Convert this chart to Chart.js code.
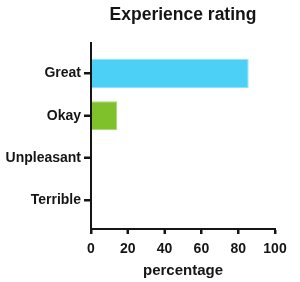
<!DOCTYPE html>
<html>
<head>
<meta charset="utf-8">
<script src="https://cdn.jsdelivr.net/npm/chart.js@4"></script>
<style>
  html, body { margin: 0; padding: 0; background: #ffffff; }
  #c { display: block; }
</style>
</head>
<body>
<canvas id="c" width="300" height="282"></canvas>
<script>
const chartTitle = 'Experience rating';
const xAxisTitle = 'percentage';
const categories = ['Great', 'Okay', 'Unpleasant', 'Terrible'];
const percentages = [85.7, 14.3, 0, 0];
const barColors = ['#4DD0F5', '#7EC12A', '#4DD0F5', '#4DD0F5'];
const barEdgeColors = ['#8EE2FA', '#A9D672', '#8EE2FA', '#8EE2FA'];
const xTickMin = 0;
const xTickMax = 100;
const xTickStep = 20;

const FONT = "'Liberation Sans', Arial, Helvetica, sans-serif";
const INK = '#151515';

// Draws the small tick marks of both axes at the scales' own tick positions.
const axisTickMarks = {
  id: 'axisTickMarks',
  afterDraw(chart) {
    const ctx = chart.ctx;
    const xs = chart.scales.x;
    const ys = chart.scales.y;
    ctx.save();
    ctx.strokeStyle = INK;
    ctx.lineWidth = 2;
    ctx.beginPath();
    ys.ticks.forEach(t => {
      const p = Math.round(ys.getPixelForValue(t.value));
      ctx.moveTo(ys.right - 7, p);
      ctx.lineTo(ys.right, p);
    });
    xs.ticks.forEach(t => {
      const p = Math.round(xs.getPixelForValue(t.value));
      ctx.moveTo(p, xs.top);
      ctx.lineTo(p, xs.top + 5);
    });
    ctx.stroke();
    ctx.restore();
  }
};

new Chart(document.getElementById('c'), {
  type: 'bar',
  data: {
    datasets: [{
      data: percentages.map((v, i) => ({ x: v, y: i })),
      backgroundColor: barColors,
      borderColor: barEdgeColors,
      borderWidth: 1,
      categoryPercentage: 1,
      barPercentage: 0.69,
      xAxisID: 'x',
      yAxisID: 'y'
    }]
  },
  plugins: [axisTickMarks],
  options: {
    indexAxis: 'y',
    responsive: false,
    animation: false,
    layout: { padding: { left: 0, right: 25, top: 0, bottom: 0 } },
    plugins: {
      legend: { display: false },
      tooltip: { enabled: false },
      title: { display: false }
    },
    scales: {
      y: {
        type: 'linear',
        position: 'left',
        reverse: true,
        offset: false,
        min: -0.72,
        max: categories.length - 1 + 0.68,
        z: 2,
        afterBuildTicks: (scale) => { scale.ticks = categories.map((_, i) => ({ value: i })); },
        afterFit: (scale) => { scale.width = 91; },
        border: { display: true, color: INK, width: 2, z: 2 },
        grid: { display: true, z: 2, offset: false, drawOnChartArea: false, drawTicks: true, tickLength: 7, tickWidth: 2, tickColor: INK, color: INK },
        ticks: {
          padding: 3,
          color: INK,
          font: { family: FONT, size: 14, weight: 'bold' },
          callback: (v) => categories[v]
        }
      },
      x: {
        type: 'linear',
        position: 'bottom',
        min: xTickMin,
        max: xTickMax,
        z: 2,
        afterFit: (scale) => { scale.height = 53; },
        border: { display: true, color: INK, width: 2, z: 2 },
        grid: { display: true, z: 2, drawOnChartArea: false, drawTicks: true, tickLength: 5, tickWidth: 2, tickColor: INK, color: INK },
        ticks: {
          stepSize: xTickStep,
          padding: 7,
          color: INK,
          font: { family: FONT, size: 14, weight: 'bold' }
        },
        title: {
          display: true,
          text: xAxisTitle,
          color: INK,
          padding: { top: 0, bottom: 2 },
          font: { family: FONT, size: 15, weight: 'bold' }
        }
      },
      x2: {
        type: 'linear',
        position: 'top',
        display: true,
        afterFit: (scale) => { scale.height = 43; },
        border: { display: false },
        grid: { display: false },
        ticks: { display: false },
        title: {
          display: true,
          text: chartTitle,
          color: INK,
          padding: { top: 5, bottom: 0 },
          font: { family: FONT, size: 17.5, weight: 'bold' }
        }
      }
    }
  }
});
</script>
</body>
</html>
